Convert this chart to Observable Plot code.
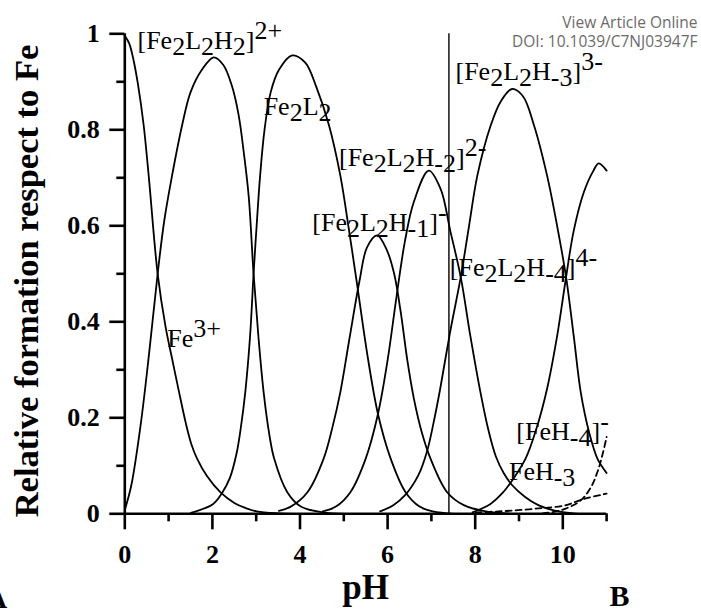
<!DOCTYPE html>
<html>
<head>
<meta charset="utf-8">
<script src="https://cdn.jsdelivr.net/npm/d3@7"></script>
<script src="https://cdn.jsdelivr.net/npm/@observablehq/plot@0.6"></script>
<style>
  html, body { margin: 0; padding: 0; background: #fff; }
  #chart { width: 701px; height: 610px; overflow: hidden; }
</style>
</head>
<body>
<div id="chart"></div>
<script>
// ---- Data ----
const fe3_pH  = [0,0.1,0.2,0.3,0.43,0.55,0.75,0.93,1.08,1.24,1.39,1.52,1.65,1.88,2.18,2.51,2.76,3.01,3.52,4.02];
const fe3_val = [0.996,0.98,0.945,0.895,0.81,0.70,0.50,0.39,0.323,0.253,0.19,0.145,0.115,0.078,0.045,0.022,0.012,0.005,0.001,0];

const h2_pH  = [0,0.15,0.36,0.55,0.75,0.9,1.08,1.31,1.5,1.76,2.03,2.25,2.45,2.6,2.72,2.83,2.94,3.05,3.17,3.3,3.41,3.71,4.02,4.52,5.02];
const h2_val = [0.008,0.06,0.184,0.33,0.50,0.61,0.705,0.81,0.878,0.925,0.951,0.935,0.89,0.83,0.75,0.66,0.50,0.37,0.253,0.165,0.115,0.045,0.015,0.003,0];

const l2_pH  = [1.51,2.01,2.21,2.4,2.55,2.65,2.75,2.86,2.94,3.01,3.09,3.19,3.33,3.52,3.82,4.12,4.37,4.66,4.92,5.12,5.3,5.54,5.78,6.07,6.41,6.73,7.03,7.53];
const l2_val = [0.002,0.02,0.042,0.075,0.125,0.18,0.253,0.37,0.50,0.60,0.705,0.80,0.878,0.925,0.955,0.94,0.89,0.81,0.705,0.59,0.48,0.33,0.208,0.115,0.045,0.015,0.005,0];

const m1_pH  = [3.52,3.79,4.17,4.54,4.74,4.92,5.12,5.36,5.53,5.76,5.98,6.15,6.3,6.45,6.6,6.78,6.98,7.36,7.74,8.24,8.84];
const m1_val = [0.006,0.015,0.045,0.115,0.18,0.253,0.36,0.486,0.555,0.58,0.55,0.50,0.42,0.32,0.24,0.17,0.115,0.045,0.018,0.005,0];

const m2_pH  = [4.52,4.82,5.15,5.50,5.78,6.0,6.2,6.4,6.6,6.94,7.21,7.43,7.67,7.89,8.12,8.3,8.47,8.65,8.84,9.14,9.44,9.84,10.35];
const m2_val = [0.005,0.015,0.045,0.115,0.208,0.32,0.45,0.57,0.65,0.715,0.677,0.59,0.493,0.37,0.253,0.175,0.12,0.085,0.06,0.035,0.018,0.006,0];

const m3_pH  = [5.83,6.13,6.41,6.7,6.9,7.05,7.2,7.43,7.67,7.86,8.05,8.35,8.59,8.84,9.09,9.34,9.64,9.87,10.07,10.25,10.41,10.60,10.79,11.0];
const m3_val = [0.005,0.018,0.04,0.08,0.13,0.19,0.26,0.38,0.493,0.60,0.705,0.808,0.86,0.885,0.87,0.81,0.705,0.60,0.496,0.37,0.253,0.17,0.115,0.085];

const m4_pH  = [7.94,8.34,8.64,8.84,9.15,9.39,9.64,9.87,10.07,10.25,10.48,10.70,10.82,11.0];
const m4_val = [0.003,0.02,0.045,0.069,0.115,0.175,0.26,0.37,0.49,0.59,0.67,0.715,0.73,0.715];

const feh3_pH  = [8.01,8.54,9.04,9.54,10.03,10.48,11.0];
const feh3_val = [0.003,0.005,0.008,0.012,0.017,0.031,0.042];

const feh4_pH  = [9.54,9.95,10.41,10.64,10.79,10.90,11.0];
const feh4_val = [0.001,0.007,0.028,0.055,0.087,0.121,0.16];

const markerPH = [7.4];

const xMajor = [0,2,4,6,8,10];
const xMinor = [1,3,5,7,9,11];
const yMajor = [0,0.2,0.4,0.6,0.8,1];
const yMinor = [0.1,0.3,0.5,0.7,0.9];

const labelText = ["[Fe_{2}L_{2}H_{2}]^{2+}","Fe_{2}L_{2}","[Fe_{2}L_{2}H_{-2}]^{2-}","[Fe_{2}L_{2}H_{-1}]^{-}","Fe^{3+}","[Fe_{2}L_{2}H_{-3}]^{3-}","[Fe_{2}L_{2}H_{-4}]^{4-}","[FeH_{-4}]^{-}","FeH_{-3}"];
const labelPH   = [0.29,3.17,4.89,4.28,0.97,7.55,7.42,8.94,8.77];
const labelFrac = [0.969,0.83,0.725,0.59,0.347,0.903,0.496,0.153,0.071];

// ---- Build tables ----
const solidSeries = [
  ["Fe3+", fe3_pH, fe3_val], ["Fe2L2H2", h2_pH, h2_val], ["Fe2L2", l2_pH, l2_val],
  ["Fe2L2H-1", m1_pH, m1_val], ["Fe2L2H-2", m2_pH, m2_val], ["Fe2L2H-3", m3_pH, m3_val],
  ["Fe2L2H-4", m4_pH, m4_val]
];
const dashedSeries = [["FeH-3", feh3_pH, feh3_val], ["FeH-4", feh4_pH, feh4_val]];
const toRows = list => list.flatMap(([name, xs, ys]) => xs.map((p, i) => ({species: name, pH: p, frac: ys[i]})));
const solidRows = toRows(solidSeries);
const dashedRows = toRows(dashedSeries);
const labels = labelText.map((t, i) => ({t, pH: labelPH[i], frac: labelFrac[i]}));

const serif = "'Liberation Serif','Times New Roman',Times,serif";

const plot = Plot.plot({
  width: 701,
  height: 610,
  marginLeft: 124.3,
  marginRight: 94.9,
  marginTop: 33.3,
  marginBottom: 96.7,
  style: {fontFamily: serif, fontWeight: "bold", background: "white", color: "black"},
  x: {domain: [0, 11]},
  y: {domain: [0, 1]},
  marks: [
    Plot.line(solidRows, {x: "pH", y: "frac", z: "species", stroke: "black", strokeWidth: 1.8, curve: "catmull-rom"}),
    Plot.line(dashedRows, {x: "pH", y: "frac", z: "species", stroke: "black", strokeWidth: 1.8, strokeDasharray: "6,4", curve: "catmull-rom"}),
    Plot.ruleX(markerPH, {y1: 0, y2: 1, stroke: "black", strokeWidth: 1.4}),
    Plot.ruleY([0], {stroke: "black", strokeWidth: 2.6}),
    Plot.ruleX([0], {stroke: "black", strokeWidth: 2.6}),
    Plot.axisX(xMajor, {tickSize: 16, tickPadding: 15, fontSize: 26, fontWeight: "bold", fontFamily: serif, strokeWidth: 2.6, label: null, tickFormat: d => String(d)}),
    Plot.axisX(xMinor, {tickSize: 8, strokeWidth: 2.6, label: null, tickFormat: () => ""}),
    Plot.axisY(yMajor, {tickSize: 15, tickPadding: 10, fontSize: 26, fontWeight: "bold", fontFamily: serif, strokeWidth: 2.6, label: null, tickFormat: d => String(+d.toFixed(1))}),
    Plot.axisY(yMinor, {tickSize: 8, strokeWidth: 2.6, label: null, tickFormat: () => ""}),
    Plot.text(labels, {x: "pH", y: "frac", text: "t", textAnchor: "start", lineAnchor: "bottom", fontSize: 26, fontWeight: "normal", fontFamily: serif, fill: "black"}),
    Plot.text(["Relative formation respect to Fe"], {text: d => d, frameAnchor: "left", dx: -87.3, dy: 7.2, rotate: -90, textAnchor: "middle", lineAnchor: "bottom", fontSize: 34.5, fontWeight: "bold", fontFamily: serif}),
    Plot.text(["pH"], {text: d => d, frameAnchor: "bottom", dy: 84.7, textAnchor: "middle", lineAnchor: "bottom", fontSize: 35, fontWeight: "bold", fontFamily: serif}),
    Plot.text(["B"], {text: d => d, frameAnchor: "bottom-right", dx: 3, dy: 91.7, textAnchor: "start", lineAnchor: "bottom", fontSize: 30, fontWeight: "bold", fontFamily: serif}),
    Plot.text(["A"], {text: d => d, frameAnchor: "bottom-left", dx: -139.3, dy: 93.7, textAnchor: "start", lineAnchor: "bottom", fontSize: 30, fontWeight: "bold", fontFamily: serif}),
    Plot.text(["View Article Online"], {text: d => d, frameAnchor: "top-right", dx: 90.9, dy: -6.3, textAnchor: "end", lineAnchor: "bottom", fontSize: 15.5, fontWeight: "normal", fontFamily: "'Open Sans',sans-serif", fill: "#6b6b6b"}),
    Plot.text(["DOI: 10.1039/C7NJ03947F"], {text: d => d, frameAnchor: "top-right", dx: 90.9, dy: 13.4, textAnchor: "end", lineAnchor: "bottom", fontSize: 15.5, fontWeight: "normal", fontFamily: "'Open Sans',sans-serif", fill: "#6b6b6b"})
  ]
});

// Sub/superscripts for species labels
const SUB = 6, SUP = 10;
plot.querySelectorAll("text").forEach(el => {
  const s = el.textContent;
  if (!/[_^]\{/.test(s)) return;
  el.textContent = "";
  const re = /([_^])\{([^}]*)\}|([^_^]+)/g;
  let m, shift = 0;
  while ((m = re.exec(s))) {
    const ts = document.createElementNS("http://www.w3.org/2000/svg", "tspan");
    const target = m[1] === "_" ? SUB : m[1] === "^" ? -SUP : 0;
    ts.setAttribute("dy", String(target - shift));
    shift = target;
    ts.textContent = m[1] ? m[2] : m[3];
    el.appendChild(ts);
  }
});

document.getElementById("chart").appendChild(plot);
</script>
</body>
</html>
